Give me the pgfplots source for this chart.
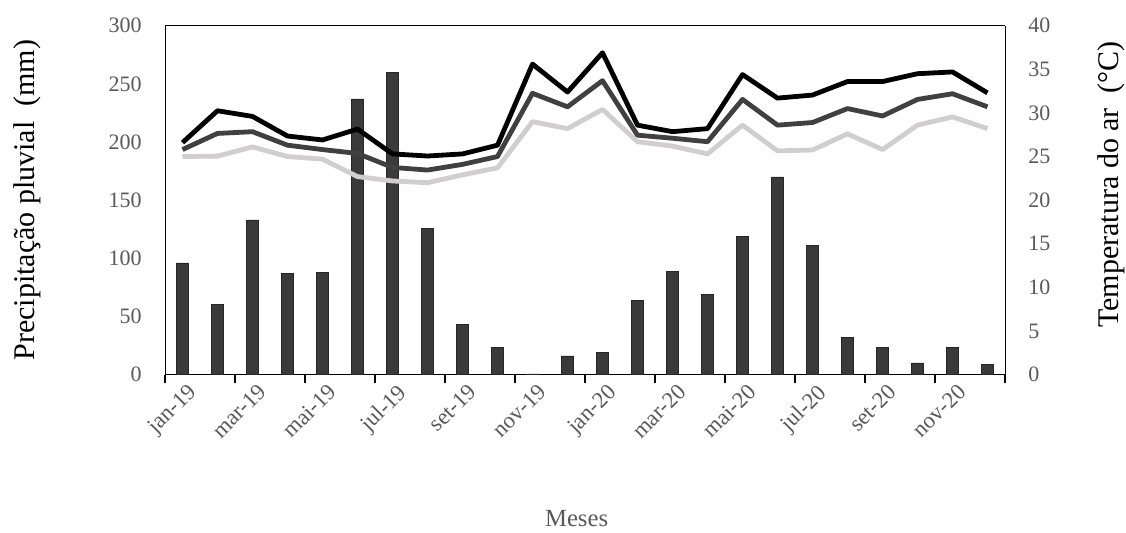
\documentclass[border=0pt]{standalone}
\usepackage{fontspec}
\setmainfont{Liberation Serif}
\usepackage{pgfplots}
\pgfplotsset{compat=1.18}
\usepackage{pgfplotstable}
\definecolor{tickgray}{HTML}{595959}
\definecolor{barfill}{HTML}{3A3A3A}
\definecolor{bardraw}{HTML}{262626}
\definecolor{meangray}{HTML}{404040}
\definecolor{mingray}{HTML}{D0CECE}

\pgfplotstableread{
i prec tmax tmed tmin
0 96 26.6 25.8 25.0
1 60 30.25 27.65 25.05
2 133 29.6 27.85 26.1
3 87 27.35 26.3 25.0
4 88 26.9 25.8 24.7
5 237 28.15 25.35 22.7
6 260 25.3 23.75 22.2
7 126 25.06 23.45 22.0
8 43 25.3 24.1 22.9
9 23 26.3 25.0 23.7
10 0.5 35.6 32.25 29.0
11 16 32.4 30.7 28.2
12 19 36.9 33.7 30.4
13 64 28.6 27.45 26.7
14 89 27.85 27.1 26.2
15 69 28.2 26.7 25.3
16 119 34.4 31.55 28.6
17 170 31.7 28.6 25.65
18 111 32.05 28.9 25.75
19 32 33.6 30.5 27.6
20 23 33.6 29.65 25.8
21 10 34.5 31.55 28.6
22 23 34.7 32.2 29.55
23 9 32.3 30.7 28.2
}\datatable

\begin{document}
\begin{tikzpicture}
\useasboundingbox (-123.75pt,-118.1pt) rectangle (720.75pt,280.9pt);
\begin{axis}[
  at={(0pt,0pt)}, anchor=south west,
  scale only axis, width=630pt, height=261.6pt,
  xmin=-0.5, xmax=23.5, ymin=0, ymax=300,
  axis x line*=bottom, axis y line*=left,
  x axis line style={line width=1.4pt, -},
  y axis line style={line width=0.6pt, -},
  ytick={0,50,...,300},
  ytick style={draw=none},
  yticklabel style={text=tickgray, font=\fontsize{16.5}{18}\selectfont, xshift=-14pt},
  xtick={0,2,...,22},
  xticklabels={jan-19,mar-19,mai-19,jul-19,set-19,nov-19,jan-20,mar-20,mai-20,jul-20,set-20,nov-20},
  xtick style={draw=none},
  xticklabel style={text=tickgray, font=\fontsize{17}{18}\selectfont, xshift=3pt, yshift=3pt, rotate=45, anchor=north east},
  extra x ticks={-0.5,1.5,...,23.5},
  extra x tick labels={},
  extra x tick style={xtick style={draw=black, line width=0.9pt}, major tick length=6pt, tick align=outside},
  /pgf/number format/assume math mode=true,
  ylabel={Precipitação pluvial\ \ (mm)},
  ylabel style={at={(axis description cs:-0.1637,0.5)}, anchor=center, rotate=0, font=\fontsize{22.5}{24}\selectfont},
  xlabel={Meses},
  xlabel style={at={(axis description cs:0.49,-0.412)}, anchor=center, text=tickgray, font=\fontsize{18.5}{20}\selectfont},
  ybar, bar width=9pt,
]
\addplot[fill=barfill, draw=bardraw, line width=0.5pt] table[x=i, y=prec] {\datatable};
\end{axis}
\begin{axis}[
  at={(0pt,0pt)}, anchor=south west,
  scale only axis, width=630pt, height=261.6pt,
  xmin=-0.5, xmax=23.5, ymin=0, ymax=40,
  axis x line*=top, axis y line*=right,
  axis line style={line width=0.6pt, -},
  xtick=\empty,
  ytick={0,5,...,40},
  ytick style={draw=none},
  yticklabel style={text=tickgray, font=\fontsize{16.5}{18}\selectfont, xshift=14pt},
  /pgf/number format/assume math mode=true,
  ylabel={Temperatura do ar\ \ (°C)},
  ylabel style={at={(axis description cs:1.1268,0.545)}, anchor=center, rotate=0, font=\fontsize{22.5}{24}\selectfont},
]
\addplot[mingray, line width=3.6pt, line join=round] table[x=i, y=tmin] {\datatable};
\addplot[meangray, line width=3.6pt, line join=round] table[x=i, y=tmed] {\datatable};
\addplot[black, line width=3.6pt, line join=round] table[x=i, y=tmax] {\datatable};
\end{axis}
\end{tikzpicture}
\end{document}
